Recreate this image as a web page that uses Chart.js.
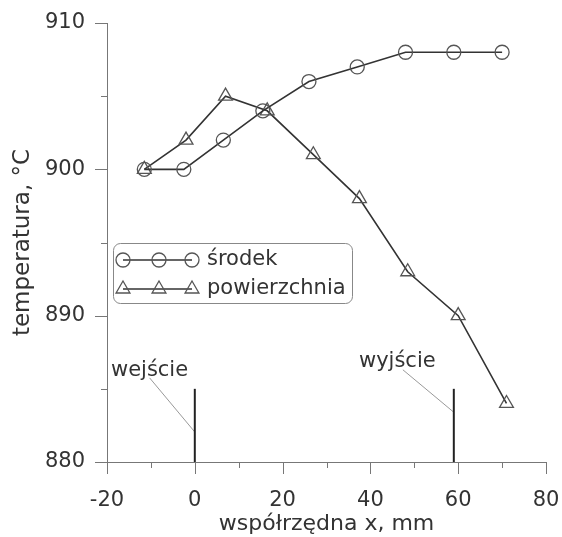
<!DOCTYPE html>
<html>
<head>
<meta charset="utf-8">
<script src="https://cdn.jsdelivr.net/npm/chart.js@4.4.1/dist/chart.umd.min.js"></script>
<style>
  html, body { margin: 0; padding: 0; background: #fff; }
  canvas { display: block; }
</style>
</head>
<body>
<canvas id="chart" width="562" height="537"></canvas>
<script>
// values
const srodekX = [-11.5, -2.5, 6.5, 15.5, 26, 37, 48, 59, 70];
const srodekY = [900, 900, 902, 904, 906, 907, 908, 908, 908];
const powX = [-11.5, -2, 7, 16.5, 27, 37.5, 48.5, 60, 71];
const powY = [900, 902, 905, 904, 901, 898, 893, 890, 884];

const seriesNames = ['środek', 'powierzchnia'];
const xTickLabels = [-20, 0, 20, 40, 60, 80];
const yTickLabels = [880, 890, 900, 910];

// entry / exit marks
const markX = [0, 59];
const markY = [880, 885];
const markNames = ['wejście', 'wyjście'];
const leaderFrom = [[-10.3, 885.75], [47.4, 886.3]];
const leaderTo = [[0, 882.05], [59, 883.4]];

const FONT = 'DejaVu Sans';
const toPoints = (xs, ys) => xs.map((x, i) => ({ x, y: ys[i] }));

const datasets = [
  {
    label: seriesNames[0],
    data: toPoints(srodekX, srodekY),
    showLine: true,
    borderColor: '#333',
    borderWidth: 1.6,
    pointStyle: 'circle',
    pointRadius: 7,
    pointBorderColor: '#555',
    pointBorderWidth: 1.3,
    pointBackgroundColor: 'rgba(0,0,0,0)',
  },
  {
    label: seriesNames[1],
    data: toPoints(powX, powY),
    showLine: true,
    borderColor: '#333',
    borderWidth: 1.6,
    pointStyle: 'triangle',
    pointRadius: 8,
    pointBorderColor: '#555',
    pointBorderWidth: 1.3,
    pointBackgroundColor: 'rgba(0,0,0,0)',
  },
];

markX.forEach((x) => {
  datasets.push({
    data: [{ x, y: markY[0] }, { x, y: markY[1] }],
    showLine: true,
    borderColor: '#222',
    borderWidth: 2,
    pointRadius: 0,
  });
});
leaderFrom.forEach((p, i) => {
  datasets.push({
    data: [{ x: p[0], y: p[1] }, { x: leaderTo[i][0], y: leaderTo[i][1] }],
    showLine: true,
    borderColor: '#999',
    borderWidth: 1,
    pointRadius: 0,
  });
});

// major/minor tick marks pointing outwards
const tickMarks = {
  id: 'tickMarks',
  afterDraw(chart) {
    const ctx = chart.ctx;
    const xs = chart.scales.x;
    const ys = chart.scales.y;
    const area = chart.chartArea;
    ctx.save();
    ctx.strokeStyle = '#777';
    ctx.lineWidth = 1;
    ctx.beginPath();
    xs.ticks.forEach((t) => {
      const px = Math.round(xs.getPixelForValue(t.value)) + 0.5;
      const len = xTickLabels.includes(t.value) ? 12 : 6;
      ctx.moveTo(px, area.bottom);
      ctx.lineTo(px, area.bottom + len);
    });
    ys.ticks.forEach((t) => {
      const py = Math.round(ys.getPixelForValue(t.value)) + 0.5;
      const len = yTickLabels.includes(t.value) ? 12 : 6;
      ctx.moveTo(area.left, py);
      ctx.lineTo(area.left - len, py);
    });
    ctx.stroke();
    ctx.restore();
  },
};

// labels for entry / exit and the boxed legend
const extras = {
  id: 'extras',
  afterDraw(chart) {
    const ctx = chart.ctx;
    const xs = chart.scales.x;
    const ys = chart.scales.y;
    ctx.save();
    ctx.fillStyle = '#333';
    ctx.font = `21px "${FONT}"`;
    ctx.textBaseline = 'alphabetic';
    ctx.textAlign = 'left';
    const textPos = [[-19.1, 885.9], [37.4, 886.5]];
    markNames.forEach((name, i) => {
      ctx.fillText(name, xs.getPixelForValue(textPos[i][0]), ys.getPixelForValue(textPos[i][1]));
    });

    // legend box
    const bx = 113, by = 243, bw = 239, bh = 60;
    ctx.strokeStyle = '#888';
    ctx.lineWidth = 1;
    ctx.beginPath();
    ctx.roundRect(bx + 0.5, by + 0.5, bw, bh, 7);
    ctx.stroke();

    const rows = [260, 289];
    const mx = [123, 159, 192];
    rows.forEach((ry, i) => {
      ctx.strokeStyle = '#333';
      ctx.lineWidth = 1.6;
      ctx.beginPath();
      ctx.moveTo(mx[0], ry);
      ctx.lineTo(mx[2], ry);
      ctx.stroke();
      ctx.strokeStyle = '#555';
      ctx.lineWidth = 1.3;
      mx.forEach((x) => {
        ctx.beginPath();
        if (i === 0) {
          ctx.arc(x, ry, 7, 0, Math.PI * 2);
        } else {
          const r = 8;
          ctx.moveTo(x, ry - r);
          ctx.lineTo(x + r * Math.sin(2 * Math.PI / 3), ry - r * Math.cos(2 * Math.PI / 3));
          ctx.lineTo(x + r * Math.sin(4 * Math.PI / 3), ry - r * Math.cos(4 * Math.PI / 3));
          ctx.closePath();
        }
        ctx.stroke();
      });
      ctx.fillStyle = '#333';
      ctx.textBaseline = 'middle';
      ctx.fillText(seriesNames[i], 207, ry);
    });
    ctx.restore();
  },
};

new Chart(document.getElementById('chart'), {
  type: 'scatter',
  data: { datasets },
  options: {
    responsive: false,
    animation: false,
    layout: { padding: { top: 23, right: 16, left: 0, bottom: 0 } },
    plugins: { legend: { display: false }, tooltip: { enabled: false } },
    scales: {
      x: {
        type: 'linear',
        min: -20,
        max: 80,
        grid: { display: false, drawTicks: false },
        border: { display: true, color: '#777', width: 1 },
        ticks: {
          stepSize: 10,
          padding: 26,
          color: '#333',
          font: { family: FONT, size: 21 },
          maxRotation: 0,
          callback: (v) => (xTickLabels.includes(v) ? String(v) : ''),
        },
        title: {
          display: true,
          text: 'współrzędna x, mm',
          color: '#333',
          font: { family: FONT, size: 22 },
          padding: { top: 0, bottom: 0 },
        },
        afterFit: (scale) => {
          scale.height = 75;
          scale.paddingLeft = 0;
          scale.paddingRight = 0;
        },
      },
      y: {
        type: 'linear',
        min: 880,
        max: 910,
        grid: { display: false, drawTicks: false },
        border: { display: true, color: '#777', width: 1 },
        ticks: {
          stepSize: 5,
          padding: 22,
          color: '#333',
          font: { family: FONT, size: 21 },
          callback: (v) => (yTickLabels.includes(v) ? String(v) : ''),
        },
        title: {
          display: true,
          text: 'temperatura, °C',
          color: '#333',
          font: { family: FONT, size: 23 },
          padding: { top: 9, bottom: 0 },
        },
        afterFit: (scale) => {
          scale.width = 107;
          scale.paddingTop = 0;
          scale.paddingBottom = 0;
        },
      },
    },
  },
  plugins: [tickMarks, extras],
});
</script>
</body>
</html>
